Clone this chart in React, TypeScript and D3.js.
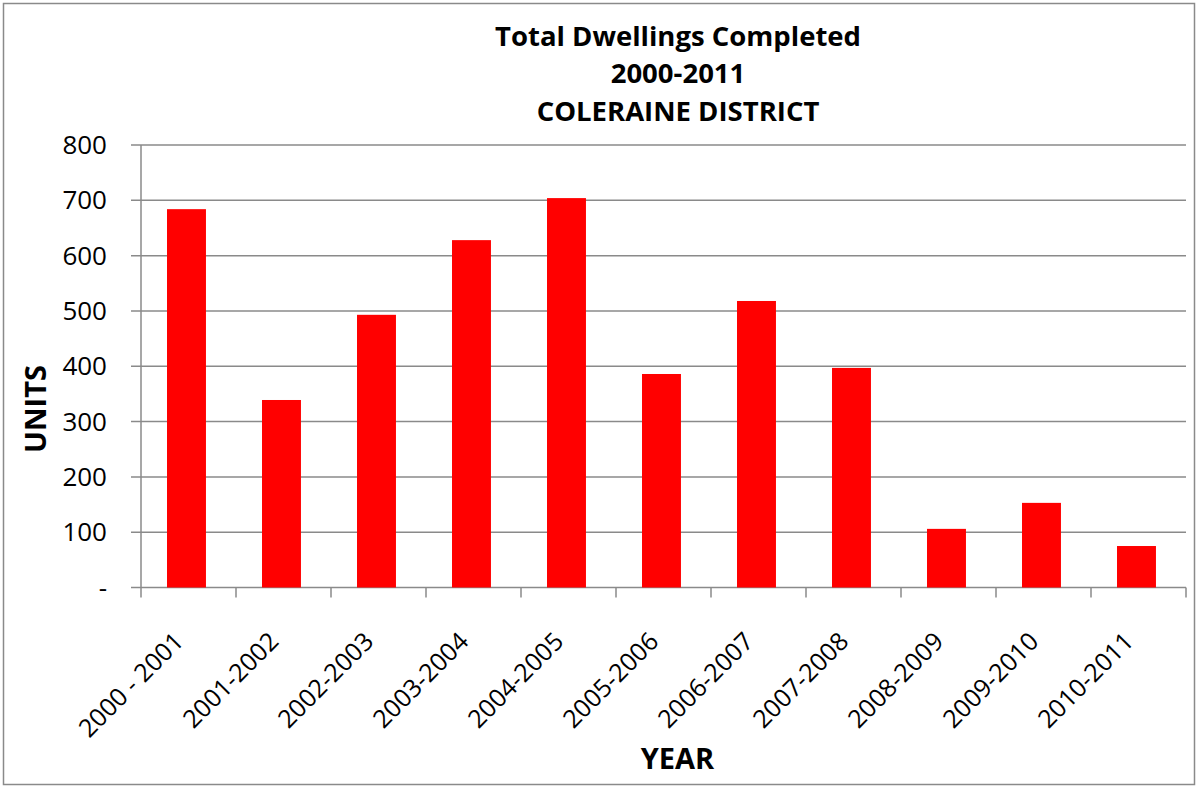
import React from "react";
import * as d3 from "d3";

const categories = [
  "2000 - 2001", "2001-2002", "2002-2003", "2003-2004", "2004-2005", "2005-2006",
  "2006-2007", "2007-2008", "2008-2009", "2009-2010", "2010-2011",
];
const units = [684, 339, 493, 628, 704, 386, 518, 397, 106, 153, 75];
const yTicks = [0, 100, 200, 300, 400, 500, 600, 700, 800];
const titleLines = ["Total Dwellings Completed", "2000-2011", "COLERAINE DISTRICT"];

const W = 1198, H = 787;
const M = { left: 141, right: 1186, top: 145, bottom: 587.5 };
const FONT = "'Open Sans', 'DejaVu Sans', sans-serif";
const GRID = "#8a8a8a";

export default function App() {
  const x = d3.scaleBand<string>().domain(categories).range([M.left, M.right]).paddingInner(0.59).paddingOuter(0.295).align(0.464);
  const y = d3.scaleLinear().domain([0, 800]).range([M.bottom, M.top]);
  const xb = d3.scaleBand<string>().domain(categories).range([M.left, M.right]);
  const boundaries = [...categories.map((c) => xb(c)!), M.right];
  const titleY = [46, 82.5, 121];

  return (
    <svg width={W} height={H} style={{ display: "block", position: "absolute", left: 0, top: 0 }}>
      <rect x={0} y={0} width={W} height={H} fill="#fff" />
      <rect x={3.5} y={3.5} width={W - 7} height={H - 6} fill="none" stroke="#8a8a8a" strokeWidth={1.5} />
      {titleLines.map((t, i) => (
        <text key={t} x={678} y={titleY[i]} textAnchor="middle" fontFamily={FONT} fontWeight="bold" fontSize={27.5} fill="#000">
          {t}
        </text>
      ))}
      {yTicks.map((v) => (
        <g key={v}>
          <line x1={M.left - 10} x2={M.right} y1={y(v)} y2={y(v)} stroke={GRID} strokeWidth={1.5} />
          <text x={107} y={y(v) + 9} textAnchor="end" fontFamily={FONT} fontSize={26} fill="#000">
            {v === 0 ? "-" : v}
          </text>
        </g>
      ))}
      <line x1={M.left} x2={M.left} y1={M.top} y2={M.bottom} stroke={GRID} strokeWidth={1.5} />
      {boundaries.map((b, i) => (
        <line key={i} x1={b} x2={b} y1={M.bottom} y2={M.bottom + 10} stroke={GRID} strokeWidth={1.5} />
      ))}
      {categories.map((c, i) => (
        <rect key={c} x={x(c)} y={y(units[i])} width={x.bandwidth()} height={y(0) - y(units[i])} fill="#ff0000" />
      ))}
      {categories.map((c) => {
        const cx = xb(c)! + xb.bandwidth() / 2 - 3.5;
        const cy = 643;
        return (
          <text key={c} x={cx} y={cy} transform={`rotate(-45 ${cx} ${cy})`} textAnchor="end" fontFamily={FONT} fontSize={25} fill="#000">
            {c}
          </text>
        );
      })}
      <text x={677.5} y={769} textAnchor="middle" fontFamily={FONT} fontWeight="bold" fontSize={29} fill="#000">
        YEAR
      </text>
      <text x={0} y={0} transform={`translate(46 409) rotate(-90)`} textAnchor="middle" fontFamily={FONT} fontWeight="bold" fontSize={29} fill="#000">
        UNITS
      </text>
    </svg>
  );
}
